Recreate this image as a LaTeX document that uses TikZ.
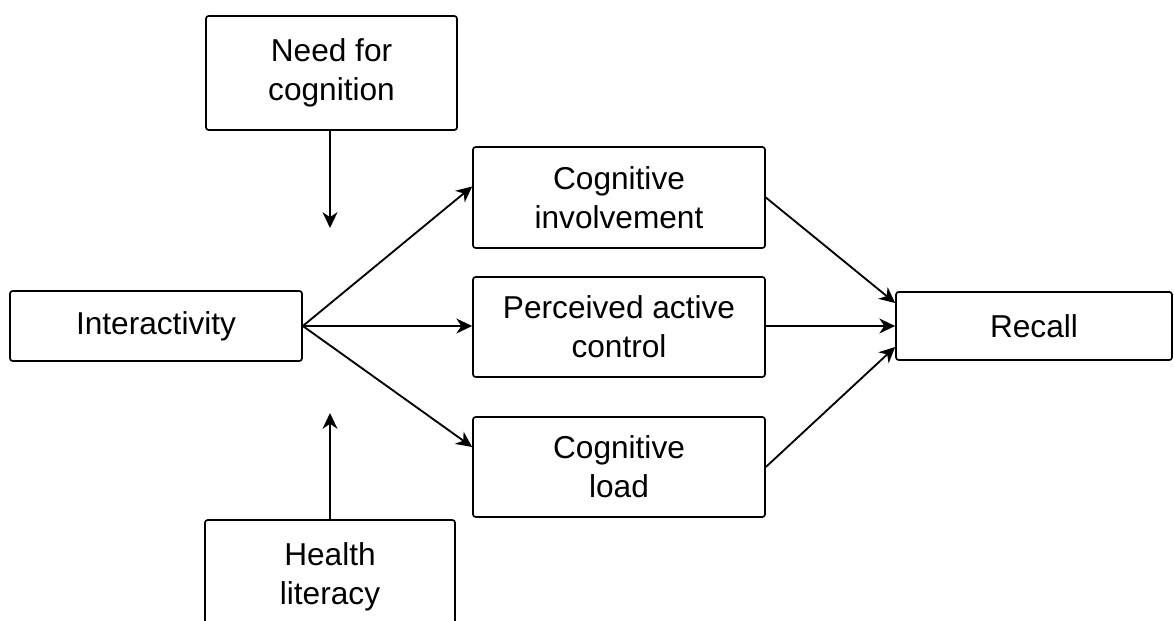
\documentclass[tikz,border=0pt]{standalone}
\usepackage{fontspec}
\setmainfont{Liberation Sans}
\usetikzlibrary{arrows.meta}

\begin{document}
\begin{tikzpicture}[
    box/.style={rectangle, draw, line width=0.95pt, rounded corners=1.5pt, align=center,
      font=\fontsize{18}{22}\selectfont},
    link/.style={line width=1.05pt, -{Stealth[length=9pt, width=8.5pt, inset=2.8pt]}}
  ]
      \useasboundingbox (0,0) rectangle (23.48,-12.42);
      \clip (0,0) rectangle (23.48,-12.42);

      % Nodes
      \node (need) at (6.63,-1.46) [box, minimum width=5.02cm, minimum height=2.28cm] {Need for\\cognition};
      \node (health) at (6.6,-11.54) [box, minimum width=5.0cm, minimum height=2.28cm] {Health\\literacy};
      \node (inter) at (3.12,-6.52) [box, minimum width=5.84cm, minimum height=1.4cm] {Interactivity};

      \node (invol) at (12.38,-3.95) [box, minimum width=5.84cm, minimum height=2.02cm] {Cognitive\\involvement};
      \node (pac) at (12.38,-6.54) [box, minimum width=5.84cm, minimum height=2.0cm] {Perceived active\\control};
      \node (load) at (12.38,-9.34) [box, minimum width=5.84cm, minimum height=2.0cm] {Cognitive\\load};

      \node (recall) at (20.68,-6.52) [box, minimum width=5.52cm, minimum height=1.36cm] {Recall};

      \coordinate (needtip) at (6.6,-4.56);
      \coordinate (healthtip) at (6.6,-8.26);


      % Edges
      \draw [link] (need.south -| needtip) -- (needtip);
      \draw [link] (health.north -| healthtip) -- (healthtip);

      \draw [link] (inter.east) -- ([yshift=0.22cm]invol.west);
      \draw [link] (inter.east) -- (pac.west |- inter.east);
      \draw [link] (inter.east) -- ([yshift=0.4cm]load.west);

      \draw [link] (invol.east) -- ([yshift=0.46cm]recall.west);
      \draw [link] (pac.east |- recall.west) -- (recall.west);
      \draw [link] (load.east) -- ([yshift=-0.42cm]recall.west);
    \end{tikzpicture}
\end{document}
